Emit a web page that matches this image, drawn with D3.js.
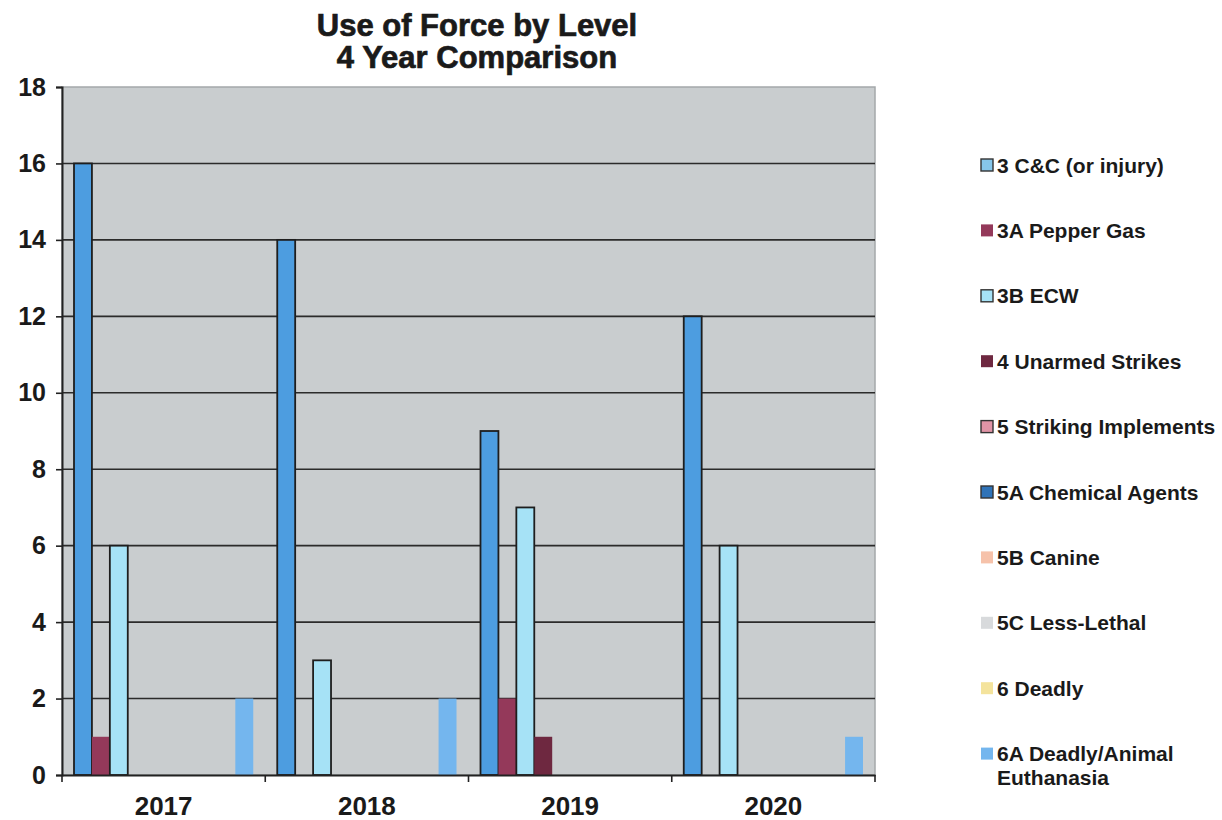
<!DOCTYPE html>
<html>
<head>
<meta charset="utf-8">
<script src="https://cdn.jsdelivr.net/npm/d3@7"></script>
<style>
  body { margin: 0; background: #fff; }
  text { font-family: "Liberation Sans", Arial, sans-serif; fill: #1a1a1a; }
</style>
</head>
<body>
<div id="chart"></div>
<script>
// data
const years = ["2017", "2018", "2019", "2020"];
const seriesNames = ["3 C&C (or injury)", "3A Pepper Gas", "3B ECW", "4 Unarmed Strikes",
    "5 Striking Implements", "5A Chemical Agents", "5B Canine", "5C Less-Lethal",
    "6 Deadly", "6A Deadly/Animal Euthanasia"];
const ccInjury   = [16, 14, 9, 12];
const pepperGas  = [1, 0, 2, 0];
const ecw        = [6, 3, 7, 6];
const unarmed    = [0, 0, 1, 0];
const striking   = [0, 0, 0, 0];
const chemical   = [0, 0, 0, 0];
const canine     = [0, 0, 0, 0];
const lessLethal = [0, 0, 0, 0];
const deadly     = [0, 0, 0, 0];
const euthanasia = [2, 2, 0, 1];
const yTicks = [0, 2, 4, 6, 8, 10, 12, 14, 16, 18];

const allValues = [ccInjury, pepperGas, ecw, unarmed, striking, chemical, canine, lessLethal, deadly, euthanasia];
const colors = ["#4d9de0", "#94395a", "#a6e2f6", "#6e2840", "#e094a6", "#2f73b8",
    "#f6c2aa", "#d8dadc", "#f4e39c", "#74b6ee"];
const outlined = [true, false, true, false, true, true, false, false, false, false];

const width = 1222, height = 820;
const plot = { left: 62, top: 87, right: 875, bottom: 775 };

const svg = d3.select("#chart")
    .append("svg")
    .attr("width", width)
    .attr("height", height);

const x0 = d3.scaleBand()
    .domain(years)
    .range([plot.left, plot.right]);

const x1 = d3.scaleBand()
    .domain(seriesNames)
    .range([12, x0.bandwidth() - 12]);

const y = d3.scaleLinear()
    .domain([0, 18])
    .range([plot.bottom, plot.top]);

// plot background
svg.append("rect")
    .attr("x", plot.left)
    .attr("y", plot.top)
    .attr("width", plot.right - plot.left)
    .attr("height", plot.bottom - plot.top)
    .attr("fill", "#c9cdcf")
    .attr("stroke", "#a4a8aa")
    .attr("stroke-width", 1.5);

// gridlines
svg.append("g")
    .selectAll("line")
    .data(yTicks.filter(function(d) { return d > 0 && d < 18; }))
    .enter().append("line")
    .attr("x1", plot.left)
    .attr("x2", plot.right)
    .attr("y1", function(d) { return y(d); })
    .attr("y2", function(d) { return y(d); })
    .attr("stroke", "#2b2b2b")
    .attr("stroke-width", 1.6);

// bars
const rows = years.map(function(year, i) {
    return seriesNames.map(function(name, k) {
        return { year: year, key: name, k: k, value: allValues[k][i] };
    });
});

const group = svg.selectAll(".year")
    .data(rows)
    .enter().append("g")
    .attr("class", "year")
    .attr("transform", function(d, i) { return `translate(${x0(years[i])},0)`; });

group.selectAll("rect")
    .data(function(d) { return d.filter(function(e) { return e.value > 0; }); })
    .enter().append("rect")
    .attr("x", function(d) { return x1(d.key); })
    .attr("y", function(d) { return y(d.value); })
    .attr("width", x1.bandwidth())
    .attr("height", function(d) { return y(0) - y(d.value); })
    .attr("fill", function(d) { return colors[d.k]; })
    .attr("stroke", function(d) { return outlined[d.k] ? "#1e1e1e" : "none"; })
    .attr("stroke-width", 1.8);

// y axis
const yAxis = svg.append("g")
    .attr("transform", `translate(${plot.left},0)`)
    .call(d3.axisLeft(y).tickValues(yTicks).tickSize(6).tickPadding(10));
yAxis.select(".domain").attr("stroke", "#222").attr("stroke-width", 2);
yAxis.selectAll(".tick line").attr("stroke", "#222").attr("stroke-width", 1.6);
yAxis.selectAll("text")
    .attr("font-size", 25)
    .attr("font-weight", "bold")
    .attr("fill", "#1a1a1a")
    .attr("font-family", "Liberation Sans, Arial, sans-serif");

// x axis
const xAxis = svg.append("g")
    .attr("transform", `translate(0,${plot.bottom})`)
    .call(d3.axisBottom(x0).tickSize(0).tickPadding(22));
xAxis.select(".domain").attr("stroke", "#222").attr("stroke-width", 2);
xAxis.selectAll("text")
    .attr("font-size", 26)
    .attr("font-weight", "bold")
    .attr("fill", "#1a1a1a")
    .attr("font-family", "Liberation Sans, Arial, sans-serif");

xAxis.selectAll(".bound")
    .data(years.map(function(d) { return x0(d); }).concat([plot.right]))
    .enter().append("line")
    .attr("class", "bound")
    .attr("x1", function(d) { return d; })
    .attr("x2", function(d) { return d; })
    .attr("y1", 0)
    .attr("y2", 7)
    .attr("stroke", "#222")
    .attr("stroke-width", 1.6);

// title
const title = svg.append("text")
    .attr("text-anchor", "middle")
    .attr("font-size", 31)
    .attr("font-weight", "bold")
    .attr("stroke", "#1a1a1a")
    .attr("stroke-width", 0.7);
title.append("tspan").attr("x", 477).attr("y", 36).text("Use of Force by Level");
title.append("tspan").attr("x", 477).attr("y", 68).text("4 Year Comparison");

// legend
const legend = svg.selectAll(".legend")
    .data(seriesNames)
    .enter().append("g")
    .attr("class", "legend")
    .attr("transform", function(d, i) { return `translate(981,${165 + i * 65.4})`; });

legend.append("rect")
    .attr("x", 0)
    .attr("y", -6)
    .attr("width", 12)
    .attr("height", 12)
    .attr("fill", function(d, i) { return i === 0 ? "#86c6ea" : colors[i]; })
    .attr("stroke", function(d, i) { return outlined[i] ? "#333" : "none"; })
    .attr("stroke-width", 1.4);

legend.append("text")
    .attr("x", 16)
    .attr("dy", "0.36em")
    .attr("font-size", 21)
    .attr("font-weight", "bold")
    .attr("fill", "#262626")
    .each(function(d) {
        const t = d3.select(this);
        if (d === "6A Deadly/Animal Euthanasia") {
            t.append("tspan").attr("x", 16).text("6A Deadly/Animal");
            t.append("tspan").attr("x", 16).attr("dy", "1.15em").text("Euthanasia");
        } else {
            t.text(d);
        }
    });
</script>
</body>
</html>
